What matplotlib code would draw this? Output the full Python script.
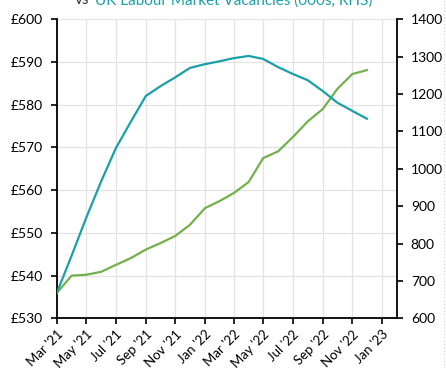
import matplotlib
matplotlib.use("Agg")
import matplotlib.pyplot as plt
import matplotlib.dates as mdates
import matplotlib.ticker as mticker
import pandas as pd

# Monthly series, Mar 2021 - Dec 2022
months = pd.date_range("2021-03-01", "2022-12-01", freq="MS")
weekly_pay = [535.9, 540.0, 540.2, 540.9, 542.5, 544.1, 546.1, 547.6, 549.3, 551.9,
              555.8, 557.5, 559.3, 561.9, 567.5, 569.1, 572.4, 576.1, 579.0, 583.7,
              587.2, 588.1]
vacancies = [667, 768, 869, 967, 1055, 1126, 1195, 1221, 1245, 1270,
             1280, 1288, 1296, 1302, 1294, 1272, 1254, 1237, 1208, 1177,
             1155, 1134]

pay_ticks = [530, 540, 550, 560, 570, 580, 590, 600]
vac_ticks = [600, 700, 800, 900, 1000, 1100, 1200, 1300, 1400]

TEAL = "#1aa0a8"
GREEN = "#72b14b"
GRID = "#e3e3e3"

plt.rcParams["font.family"] = ["Lato", "DejaVu Sans"]

fig = plt.figure(figsize=(4.46, 3.68), dpi=100)
ax = fig.add_axes([0.127, 0.135, 0.763, 0.8125])
ax2 = ax.twinx()

ax.plot(months, weekly_pay, color=GREEN, linewidth=1.6, zorder=3)
ax2.plot(months, vacancies, color=TEAL, linewidth=1.6, zorder=3)

ax.set_xlim(pd.Timestamp("2021-03-01"), pd.Timestamp("2023-02-01"))
ax.set_ylim(530, 600)
ax2.set_ylim(600, 1400)

ax.set_yticks(pay_ticks)
ax.yaxis.set_major_formatter(mticker.FuncFormatter(lambda v, p: f"£{v:.0f}"))
ax2.set_yticks(vac_ticks)

ax.xaxis.set_major_locator(mdates.MonthLocator(bymonth=[1, 3, 5, 7, 9, 11]))
ax.xaxis.set_major_formatter(mdates.DateFormatter("%b '%y"))
plt.setp(ax.get_xticklabels(), rotation=45, ha="right", rotation_mode="anchor")

ax.grid(True, color=GRID, linewidth=0.9)
ax.set_axisbelow(True)

for a in (ax, ax2):
    a.spines["top"].set_visible(False)
    a.tick_params(length=4, width=1.2, labelsize=10, colors="#000000")
ax.spines["right"].set_visible(False)
ax2.spines["left"].set_visible(False)
ax2.spines["bottom"].set_visible(False)
ax.spines["left"].set_linewidth(1.3)
ax.spines["bottom"].set_linewidth(1.3)
ax2.spines["right"].set_linewidth(1.3)
ax.tick_params(axis="y", pad=6)
ax.tick_params(axis="x", labelsize=9.5, pad=3)
ax2.tick_params(axis="y", pad=6)

# faint dotted border on the right edge
fig.add_artist(plt.Line2D([444 / 446, 444 / 446], [0, 1], transform=fig.transFigure,
                          color="#d0d0d0", linewidth=0.8, linestyle=(0, (1, 2))))

# Title, mostly cropped off the top edge
fig.text(75 / 446, 1 - 4.5 / 368, "vs", color="#333333", fontsize=11, va="baseline", ha="left")
fig.text(95 / 446, 1 - 4.5 / 368, "UK Labour Market Vacancies (000s, RHS)", color=TEAL,
         fontsize=11, va="baseline", ha="left")

fig.savefig("out.png", dpi=100)
